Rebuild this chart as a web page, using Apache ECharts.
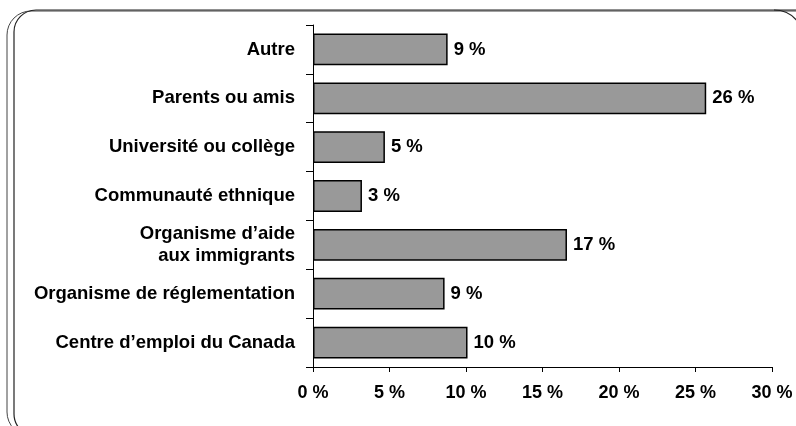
<!DOCTYPE html>
<html>
<head>
<meta charset="utf-8">
<script src="https://cdn.jsdelivr.net/npm/echarts@6/dist/echarts.min.js"></script>
<style>
  html, body { margin: 0; padding: 0; background: #fff; overflow: hidden; }
  #chart { width: 796px; height: 426px; }
</style>
</head>
<body>
<div id="chart"></div>
<script>
// categories top to bottom
const categories = [
  'Autre',
  'Parents ou amis',
  'Université ou collège',
  'Communauté ethnique',
  'Organisme d’aide\naux immigrants',
  'Organisme de réglementation',
  'Centre d’emploi du Canada'
]
const values = [8.8, 25.7, 4.7, 3.2, 16.6, 8.6, 10.1]
const valueLabels = ['9 %', '26 %', '5 %', '3 %', '17 %', '9 %', '10 %']
const xTicks = [0, 5, 10, 15, 20, 25, 30]

const font = 'Liberation Sans, Arial, sans-serif'

const chart = echarts.init(document.getElementById('chart'))
chart.setOption({
  animation: false,
  backgroundColor: '#fff',
  grid: { left: 313, right: 24, top: 25, bottom: 59, containLabel: false },
  // rounded double frame; right and bottom sides run off the page
  graphic: [
    {
      type: 'rect', silent: true,
      shape: { x: 7, y: 11, width: 830, height: 425, r: 24 },
      style: { fill: 'none', stroke: '#444', lineWidth: 1 }
    },
    {
      type: 'rect', silent: true,
      shape: { x: 14, y: 10, width: 825, height: 426, r: 22 },
      style: { fill: 'none', stroke: '#222', lineWidth: 1.2 }
    },
    {
      type: 'arc', silent: true,
      shape: { cx: 774, cy: 40, r: 30, startAngle: -Math.PI / 2, endAngle: -Math.PI / 5 },
      style: { fill: 'none', stroke: '#222', lineWidth: 1.2 }
    }
  ],
  xAxis: {
    type: 'value',
    min: 0,
    max: 30,
    interval: 5,
    splitLine: { show: false },
    axisLine: { show: true, lineStyle: { color: '#000', width: 1 } },
    axisTick: { show: true, length: 5, lineStyle: { color: '#000' } },
    axisLabel: {
      color: '#000', fontFamily: font, fontWeight: 'bold', fontSize: 18, margin: 17,
      formatter: v => xTicks.includes(v) ? v + ' %' : ''
    }
  },
  yAxis: {
    type: 'category',
    inverse: true,
    data: categories,
    axisLine: { show: true, lineStyle: { color: '#000', width: 1 } },
    axisTick: { show: true, length: 7, lineStyle: { color: '#000' } },
    axisLabel: {
      color: '#000', fontFamily: font, fontWeight: 'bold', fontSize: 18.5,
      margin: 18, align: 'right', lineHeight: 22
    }
  },
  series: [
    {
      type: 'bar',
      data: values,
      barCategoryGap: '35%',
      itemStyle: { color: '#999999', borderColor: '#000', borderWidth: 1.5 },
      label: {
        show: true,
        position: 'right',
        distance: 6,
        color: '#000',
        fontFamily: font,
        fontWeight: 'bold',
        fontSize: 18.5,
        formatter: p => valueLabels[p.dataIndex]
      }
    }
  ]
})
</script>
</body>
</html>
